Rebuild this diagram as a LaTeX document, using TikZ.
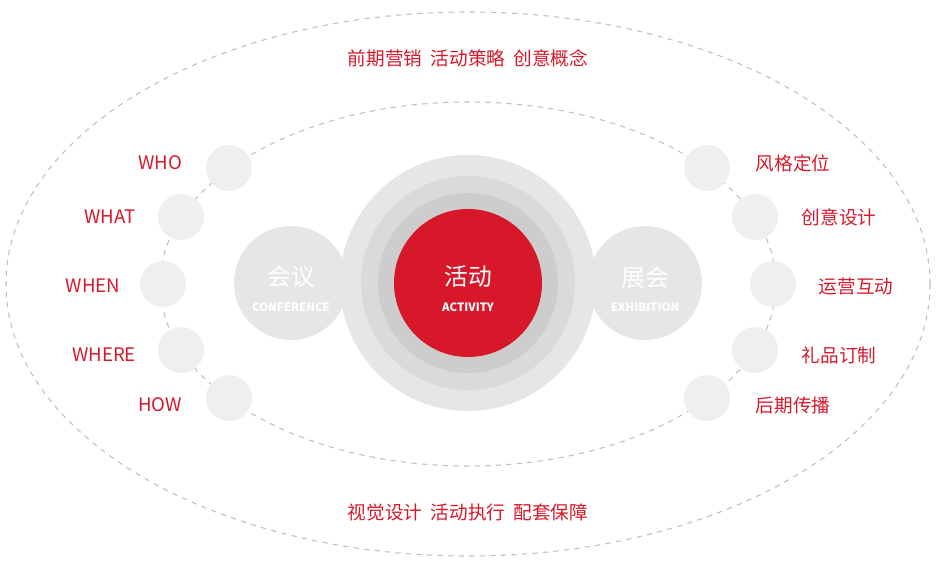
\documentclass[tikz,border=0pt]{standalone}
\usepackage{fontspec}
\setmainfont{Noto Sans CJK SC}
\usetikzlibrary{positioning}
\definecolor{brandred}{HTML}{D7182A}
\definecolor{ring1}{HTML}{E6E6E6}
\definecolor{ring2}{HTML}{DADADA}
\definecolor{ring3}{HTML}{CDCDCD}
\definecolor{bubble}{HTML}{EFEFEF}
\definecolor{sidegray}{HTML}{E6E6E6}
\tikzset{
  orbit/.style={draw=black!25, dashed, line width=0.6pt},
  dot/.style={circle, fill=bubble, minimum size=46*0.02cm, inner sep=0pt},
  side/.style={circle, fill=sidegray, minimum size=114*0.02cm, inner sep=0pt},
  title/.style={text=white, font=\fontsize{13.5}{15}\selectfont, inner sep=0pt},
  subtitle/.style={text=white, font=\fontsize{6.5}{8}\selectfont\bfseries, inner sep=0pt},
  tag/.style={text=brandred, font=\fontsize{10.6}{12}\selectfont, inner sep=0pt}
}
\begin{document}
\begin{tikzpicture}[x=0.02cm,y=-0.02cm]
\useasboundingbox (0,0) rectangle (936,569);
% orbits
\draw[orbit] (468,284) ellipse [x radius=462, y radius=272];
\draw[orbit] (468,284) ellipse [x radius=308, y radius=182];
% centre rings
\fill[ring1] (468,283) circle (128);
\fill[ring2] (468,283) circle (107);
\fill[ring3] (468,283) circle (90);
\node[circle, fill=brandred, minimum size=148*0.02cm, inner sep=0pt] (act) at (468,283) {};
\node[side] (conf) at (291,283) {};
\node[side] (exh) at (645,283) {};
\node[title] (actt) at (468,277) {活动};
\node[subtitle] (acts) at (468,307) {ACTIVITY};
\node[title] (conft) at (291,277) {会议};
\node[subtitle] (confs) at (291,307) {CONFERENCE};
\node[title] (exht) at (645,277) {展会};
\node[subtitle] (exhs) at (645,307) {EXHIBITION};
% bubbles left
\foreach \x/\y/\t/\lx/\ly [count=\i] in {229/168/WHO/160/163, 181/217/WHAT/110/217, 163/284/WHEN/93/286, 181/350/WHERE/104/355, 229/398/HOW/160/405}{
  \node[dot] (l\i) at (\x,\y) {};
  \node[tag] (lt\i) at (\lx,\ly) {\t};
}
% bubbles right
\foreach \x/\y/\t/\lx/\ly [count=\i] in {707/168/风格定位/793/163, 755/217/创意设计/839/217, 773/284/运营互动/856/286, 755/350/礼品订制/839/355, 707/398/后期传播/793/405}{
  \node[dot] (r\i) at (\x,\y) {};
  \node[tag] (rt\i) at (\lx,\ly) {\t};
}
\node[tag] (top) at (468,58) {前期营销\ \ 活动策略\ \ 创意概念};
\node[tag] (bottom) at (468,512) {视觉设计\ \ 活动执行\ \ 配套保障};
\end{tikzpicture}
\end{document}
